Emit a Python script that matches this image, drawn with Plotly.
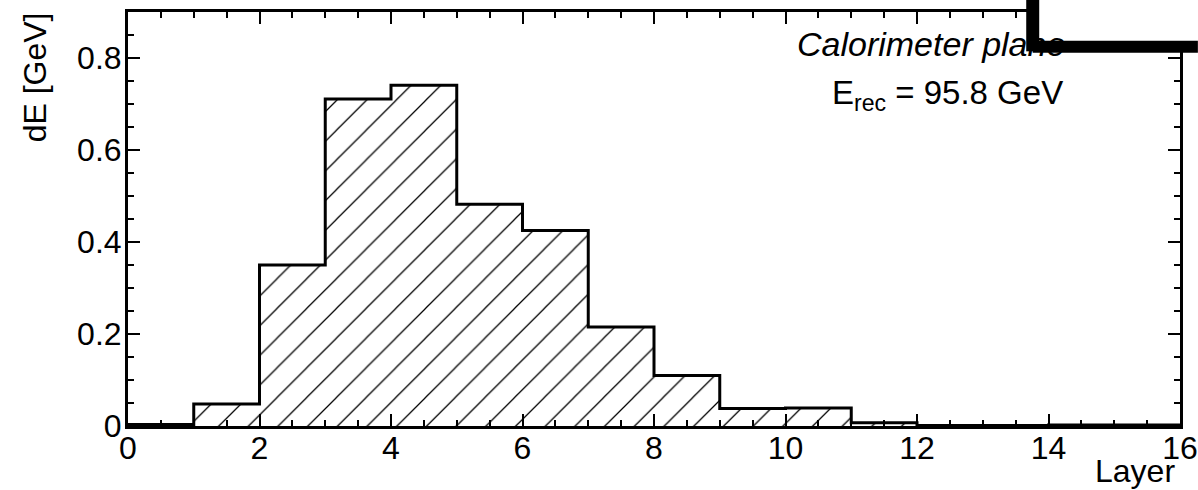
import plotly.graph_objects as go

# Data
bin_edges = list(range(0, 17))
dE = [0.003, 0.048, 0.350, 0.711, 0.741, 0.482, 0.425, 0.215, 0.110, 0.038,
      0.039, 0.007, 0.001, 0.001, 0.002, 0.002]
y_tickvals = [0, 0.2, 0.4, 0.6, 0.8]
y_ticktext = ["0", "0.2", "0.4", "0.6", "0.8"]
x_title = "Layer"
y_title = "dE [GeV]"
label_title = "Calorimeter plane"
label_energy = "E<sub>rec</sub> = 95.8 GeV"

centers = [(bin_edges[i] + bin_edges[i + 1]) / 2 for i in range(len(dE))]

FONT = "Liberation Sans, Arial, Helvetica, sans-serif"
FS = 32

fig = go.Figure()
fig.add_trace(go.Bar(
    x=centers, y=dE, width=1,
    marker=dict(color="white", line=dict(width=0),
                pattern=dict(shape="/", fgcolor="black", bgcolor="white",
                             fgopacity=1, size=21, solidity=0.06,
                             fillmode="overlay")),
    showlegend=False, hoverinfo="skip",
))
fig.add_trace(go.Scatter(
    x=bin_edges, y=dE + [dE[-1]], mode="lines",
    line=dict(shape="hv", color="black", width=3),
    showlegend=False, hoverinfo="skip",
))

axis_common = dict(
    showgrid=False, zeroline=False, showline=True, linecolor="black",
    linewidth=3, mirror="allticks", ticks="inside", tickcolor="black",
    tickwidth=2, ticklen=12, automargin=False,
    tickfont=dict(family=FONT, size=FS, color="black"),
)

fig.update_layout(
    width=1198, height=490,
    margin=dict(l=128, r=18, t=12, b=64),
    paper_bgcolor="white", plot_bgcolor="white",
    bargap=0,
    xaxis=dict(range=[0, 16], dtick=2, tick0=0, ticklabelstandoff=-8,
               minor=dict(ticks="inside", dtick=0.5, ticklen=6,
                          tickwidth=2, tickcolor="black"),
               **axis_common),
    yaxis=dict(range=[0, 0.9], tickmode="array", tickvals=y_tickvals,
               ticktext=y_ticktext, ticklabelstandoff=-3,
               minor=dict(ticks="inside", dtick=0.05, tick0=0, ticklen=6,
                          tickwidth=2, tickcolor="black"),
               **axis_common),
    font=dict(family=FONT, color="black"),
)

annotations = [
    dict(text=x_title, xref="paper", yref="paper", x=0.997, y=-0.108,
         xanchor="right", yanchor="middle", showarrow=False,
         font=dict(size=FS, family=FONT)),
    dict(text=y_title, xref="paper", yref="paper", x=-0.088, y=1.005,
         xanchor="center", yanchor="top", textangle=-90, showarrow=False,
         font=dict(size=FS, family=FONT)),
    dict(text="<i>" + label_title + "</i>", xref="paper", yref="paper",
         x=0.634, y=0.923, xanchor="left", yanchor="middle", showarrow=False,
         font=dict(size=34, family=FONT)),
    dict(text=label_energy, xref="paper", yref="paper",
         x=0.667, y=0.80, xanchor="left", yanchor="middle", showarrow=False,
         font=dict(size=33, family=FONT)),
]
fig.update_layout(annotations=annotations)

# scribbled-over box in the top right corner
shapes = [
    dict(type="rect", xref="paper", yref="paper", x0=0.862, x1=1.017,
         y0=0.905, y1=1.029, fillcolor="white", line=dict(width=0), layer="above"),
    dict(type="line", xref="paper", yref="paper", x0=0.860, x1=0.860,
         y0=0.905, y1=1.029, line=dict(color="black", width=13), layer="above"),
    dict(type="line", xref="paper", yref="paper", x0=0.860, x1=1.017,
         y0=0.916, y1=0.916, line=dict(color="black", width=12), layer="above"),
]
fig.update_layout(shapes=shapes)

fig.write_html(
    "out.html",
    config={"displayModeBar": False},
    post_script="document.body.style.margin='0';document.body.style.padding='0';",
)
